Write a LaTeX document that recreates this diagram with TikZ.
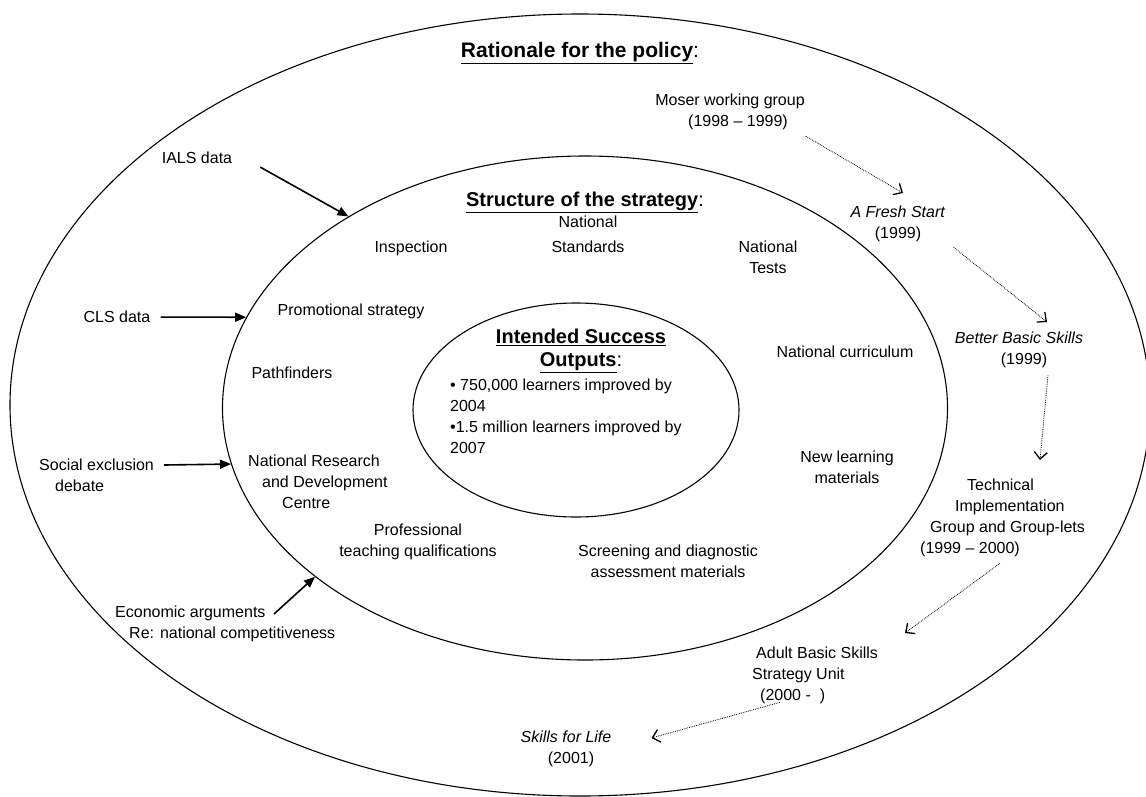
\documentclass[tikz,border=0pt]{standalone}
\usepackage{fontspec}
\setmainfont{Liberation Sans}
\usetikzlibrary{arrows.meta,shapes.geometric}
\newcommand{\plaincolon}{{\mdseries :}}
\begin{document}
\begin{tikzpicture}[x=1pt,y=-1pt,
  ring/.style={draw=black,ellipse,line width=1.1pt,inner sep=0pt},
  txt/.style={inner sep=0pt,align=center,anchor=north,font=\fontsize{16}{21}\selectfont},
  txtl/.style={txt,align=left,anchor=north west},
  head/.style={inner sep=0pt,align=center,anchor=north,font=\fontsize{20}{23}\selectfont\bfseries},
  feed/.style={line width=1.6pt,-{Triangle[length=11pt,width=9pt]}},
  flow/.style={line width=0.8pt,densely dotted,-{Straight Barb[length=7pt,width=13pt,line width=1.3pt]}}]
\useasboundingbox (0,0) rectangle (1146,796);

% three nested rings
\node[ring,minimum width=1140pt,minimum height=782pt] (outer) at (580,405) {};
\node[ring,minimum width=725pt,minimum height=504pt] (mid) at (585,408) {};
\node[ring,minimum width=326pt,minimum height=214pt] (core) at (576,410) {};

% outer ring: rationale and policy timeline
\node[head,font=\fontsize{21}{25}\selectfont\bfseries] (rat) at (580,42) {\underline{Rationale for the policy}\plaincolon};
\node[txt] (moser) at (730,94) {Moser working group\\\hspace*{16pt}(1998 – 1999)};
\node[txt] (fresh) at (898,206) {\textit{A Fresh Start}\\(1999)};
\node[txt] (better) at (1019,332) {\textit{Better Basic Skills}\\\hspace*{10pt}(1999)};
\node[txtl] (tech) at (920,479) {\hspace*{47pt}Technical\\\hspace*{35pt}Implementation\\\hspace*{10pt}Group and Group-lets\\(1999 – 2000)};
\node[txtl] (adult) at (752,647) {\hspace*{4pt}Adult Basic Skills\\Strategy Unit\\\hspace*{8pt}(2000 -\ \ )};
\node[txt] (life) at (566,731) {\textit{Skills for Life}\\\hspace*{10pt}(2001)};

\node[txt] (ials) at (197,152) {IALS data};
\node[txt] (cls) at (117,311) {CLS data};
\node[txtl] (social) at (39,459) {Social exclusion\\\hspace*{16pt}debate};
\node[txtl] (econ) at (115,606) {Economic arguments\\\hspace*{14pt}Re: national competitiveness};

% middle ring: structure of the strategy
\node[head] (struct) at (585,192) {\underline{Structure of the strategy}\plaincolon};
\node[txt] (std) at (588,216) {National\\[4pt]Standards};
\node[txt] (insp) at (411,241) {Inspection};
\node[txt] (tests) at (768,241) {National\\Tests};
\node[txt] (promo) at (351,304) {Promotional strategy};
\node[txt] (path) at (292,367) {Pathfinders};
\node[txt] (curr) at (845,346) {National curriculum};
\node[txtl] (nrdc) at (248,455) {National Research\\\hspace*{14pt}and Development\\\hspace*{34pt}Centre};
\node[txt] (newmat) at (847,451) {New learning\\materials};
\node[txt] (prof) at (418,524) {Professional\\teaching qualifications};
\node[txt] (screen) at (668,545) {Screening and diagnostic\\assessment materials};

% core: intended outputs
\node[head] (isoh) at (581,329) {\underline{Intended Success}\\\underline{Outputs}\plaincolon};
\node[txtl] (isol) at (450,379) {• 750,000 learners improved by\\2004\\•1.5 million learners improved by\\2007};

% influences feeding the strategy
\draw[feed] ([xshift=28pt,yshift=-3pt]ials.south east) -- (mid.141);
\draw[feed] ([xshift=10pt]cls.east) -- (mid.165);
\draw[feed] ([xshift=10pt,yshift=-6pt]social.north east) -- (mid.189);
\draw[feed] ([xshift=159pt,yshift=-8pt]econ.north west) -- (mid.212);

% policy timeline
\draw[flow] ([xshift=1pt,yshift=-6pt]moser.south east) -- ([xshift=5pt,yshift=13pt]fresh.north);
\draw[flow] ([xshift=8pt,yshift=-5pt]fresh.south east) -- ([xshift=28pt,yshift=10pt]better.north);
\draw[flow] ([xshift=29pt,yshift=-7pt]better.south) -- ([xshift=120pt,yshift=19pt]tech.north west);
\draw[flow] ([xshift=80pt,yshift=-6pt]tech.south west) -- ([xshift=153pt,yshift=14pt]adult.north west);
\draw[flow] ([xshift=28pt,yshift=2pt]adult.south west) -- ([xshift=40pt,yshift=-7pt]life.north east);
\end{tikzpicture}
\end{document}
